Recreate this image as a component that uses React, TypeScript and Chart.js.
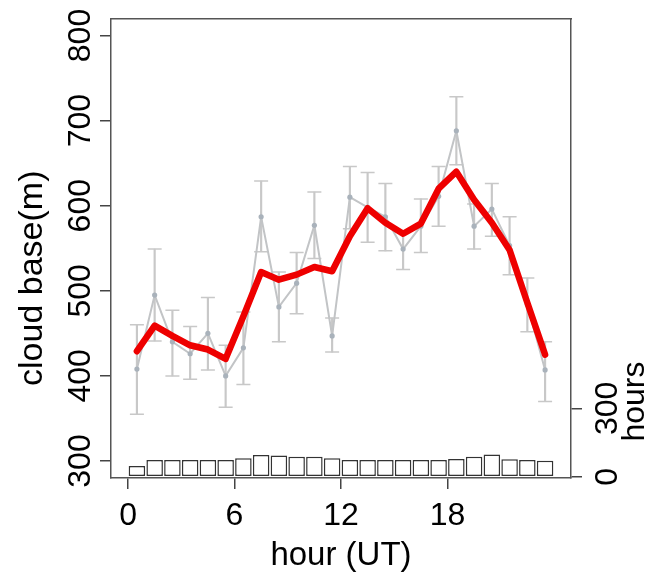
import React, { useEffect, useRef } from "react";
import { Chart, registerables } from "chart.js";

Chart.register(...registerables);

// ---- data ----
const hourMid = [0.5, 1.5, 2.5, 3.5, 4.5, 5.5, 6.5, 7.5, 8.5, 9.5, 10.5, 11.5, 12.5, 13.5, 14.5, 15.5, 16.5, 17.5, 18.5, 19.5, 20.5, 21.5, 22.5, 23.5];
const hourTicks = [0, 6, 12, 18];
const cloudTicks = [300, 400, 500, 600, 700, 800];
const hoursTicks = [0, 300];

const cloudMean = [408, 495, 440, 426, 450, 400, 433, 587, 481, 509, 577, 447, 610, 598, 587, 549, 576, 611, 688, 576, 596, 553, 484, 407];
const cloudLow = [355, 441, 400, 396, 407, 363, 390, 546, 440, 473, 538, 428, 573, 557, 547, 525, 545, 576, 648, 549, 564, 519, 452, 370];
const cloudHigh = [460, 549, 477, 458, 492, 436, 475, 629, 522, 545, 616, 468, 646, 639, 626, 570, 608, 646, 728, 602, 626, 587, 515, 440];
const cloudSmooth = [429, 459, 447, 436, 431, 420, 470, 522, 513, 519, 528, 523, 564, 597, 580, 567, 579, 620, 640, 607, 580, 548, 486, 425];
const obsHours = [48, 74, 74, 74, 74, 74, 81, 96, 94, 88, 88, 81, 74, 74, 74, 74, 74, 74, 78, 88, 98, 77, 74, 70];

const FONT = "'Liberation Sans', Arial, Helvetica, sans-serif";
const FS = 32;
const W = 654;
const H = 577;

export default function App() {
  const ref = useRef<HTMLCanvasElement>(null);

  useEffect(() => {
    document.body.style.margin = "0";
    const canvas = ref.current!;
    const ctx = canvas.getContext("2d")!;
    ctx.font = `${FS}px ${FONT}`;
    const wLeft = ctx.measureText("800").width;
    const wRight = ctx.measureText("300").width;

    const font = { family: FONT, size: FS };
    const axisColor = "#444";
    const boxColor = "#555";

    const sideLabels = {
      id: "sideLabels",
      afterDraw(chart: any) {
        const c = chart.ctx;
        const s2 = chart.scales.y2;
        const area = chart.chartArea;
        c.save();
        c.fillStyle = "#000";
        c.textAlign = "center";
        c.textBaseline = "middle";
        // right axis label
        c.font = `${FS}px ${FONT}`;
        c.save();
        c.translate(s2.left + 64, s2.getPixelForValue(330));
        c.rotate(-Math.PI / 2);
        c.fillText("hours", 0, 0);
        c.restore();
        // left axis label
        c.font = `34px ${FONT}`;
        c.save();
        c.translate(33, (area.top + area.bottom) / 2 + 30);
        c.rotate(-Math.PI / 2);
        c.fillText("cloud base(m)", 0, 0);
        c.restore();
        c.restore();
      },
    };

    const chart = new Chart(ctx, {
      type: "line",
      data: {
        datasets: [
          {
            type: "line",
            label: "smoothed",
            data: hourMid.map((x, i) => ({ x, y: cloudSmooth[i] })),
            borderColor: "#ee0000",
            borderWidth: 6.5,
            pointRadius: 0,
            borderJoinStyle: "round",
            borderCapStyle: "round",
            tension: 0,
            xAxisID: "x",
            yAxisID: "y",
            order: 0,
          },
          {
            type: "line",
            label: "mean",
            data: hourMid.map((x, i) => ({ x, y: cloudMean[i] })),
            borderColor: "#c2c4c6",
            borderWidth: 2,
            pointRadius: 2.6,
            pointBackgroundColor: "#a9b2bb",
            pointBorderWidth: 0,
            tension: 0,
            xAxisID: "x",
            yAxisID: "y",
            order: 1,
          },
          {
            type: "scatter",
            label: "caps",
            data: [
              ...hourMid.map((x, i) => ({ x, y: cloudLow[i] })),
              ...hourMid.map((x, i) => ({ x, y: cloudHigh[i] })),
            ],
            pointStyle: "line",
            pointRadius: 7,
            borderColor: "#c8c8c8",
            borderWidth: 1.5,
            showLine: false,
            xAxisID: "x",
            yAxisID: "y",
            order: 2,
          },
          {
            type: "bar",
            label: "stems",
            data: hourMid.map((x, i) => ({ x, y: [cloudLow[i], cloudHigh[i]] })),
            backgroundColor: "#c8c8c8",
            barThickness: 1.5,
            grouped: false,
            xAxisID: "x",
            yAxisID: "y",
            order: 3,
          },
          {
            type: "bar",
            label: "hours",
            data: hourMid.map((x, i) => ({ x, y: obsHours[i] })),
            backgroundColor: "#ffffff",
            borderColor: "#333",
            borderWidth: 1.5,
            borderSkipped: false,
            barPercentage: 0.93,
            categoryPercentage: 1,
            grouped: false,
            xAxisID: "x",
            yAxisID: "y2",
            order: 4,
          },
        ] as any,
      },
      options: {
        responsive: false,
        animation: false,
        devicePixelRatio: 1,
        layout: { padding: { top: 17, left: 0, right: 0, bottom: 0 } },
        plugins: { legend: { display: false }, tooltip: { enabled: false } },
        scales: {
          x: {
            type: "linear",
            position: "bottom",
            min: -0.96,
            max: 24.96,
            bounds: "data",
            offset: false,
            afterBuildTicks: (s: any) => {
              s.ticks = hourTicks.map((v) => ({ value: v }));
            },
            afterFit: (s: any) => {
              s.height = 99;
            },
            ticks: { font, color: "#000", padding: 8, autoSkip: false, maxRotation: 0 },
            grid: { offset: false, drawOnChartArea: false, drawTicks: true, tickLength: 11, color: axisColor, lineWidth: 1.5 },
            border: { display: true, color: boxColor, width: 1.5 },
            title: { display: true, text: "hour (UT)", font: { family: FONT, size: 33 }, color: "#000", padding: { top: 0, bottom: 1 } },
          },
          x2: {
            type: "linear",
            position: "top",
            min: -0.96,
            max: 24.96,
            bounds: "data",
            offset: false,
            afterFit: (s: any) => {
              s.height = 0;
            },
            ticks: { display: false },
            grid: { offset: false, drawOnChartArea: false, drawTicks: false },
            border: { display: true, color: boxColor, width: 1.5 },
          },
          y: {
            type: "linear",
            position: "left",
            min: 280,
            max: 820,
            bounds: "data",
            afterBuildTicks: (s: any) => {
              s.ticks = cloudTicks.map((v) => ({ value: v }));
            },
            afterFit: (s: any) => {
              s.width = 111;
            },
            ticks: {
              font,
              color: "#000",
              minRotation: 90,
              maxRotation: 90,
              crossAlign: "center",
              padding: 19 - wLeft / 2,
            },
            grid: { drawOnChartArea: false, drawTicks: true, tickLength: 11, color: axisColor, lineWidth: 1.5 },
            border: { display: true, color: boxColor, width: 1.5 },
            title: { display: false },
          },
          y2: {
            type: "linear",
            position: "right",
            min: -5,
            max: 2007,
            bounds: "data",
            afterBuildTicks: (s: any) => {
              s.ticks = hoursTicks.map((v) => ({ value: v }));
            },
            afterFit: (s: any) => {
              s.width = 83;
            },
            ticks: {
              font,
              color: "#000",
              minRotation: 90,
              maxRotation: 90,
              crossAlign: "center",
              padding: 26 - wRight / 2,
            },
            grid: { drawOnChartArea: false, drawTicks: true, tickLength: 11, color: axisColor, lineWidth: 1.5 },
            border: { display: true, color: boxColor, width: 1.5 },
          },
        },
      } as any,
      plugins: [sideLabels],
    });

    return () => chart.destroy();
  }, []);

  return (
    <div style={{ width: W, height: H }}>
      <canvas ref={ref} width={W} height={H} style={{ display: "block" }} />
    </div>
  );
}
